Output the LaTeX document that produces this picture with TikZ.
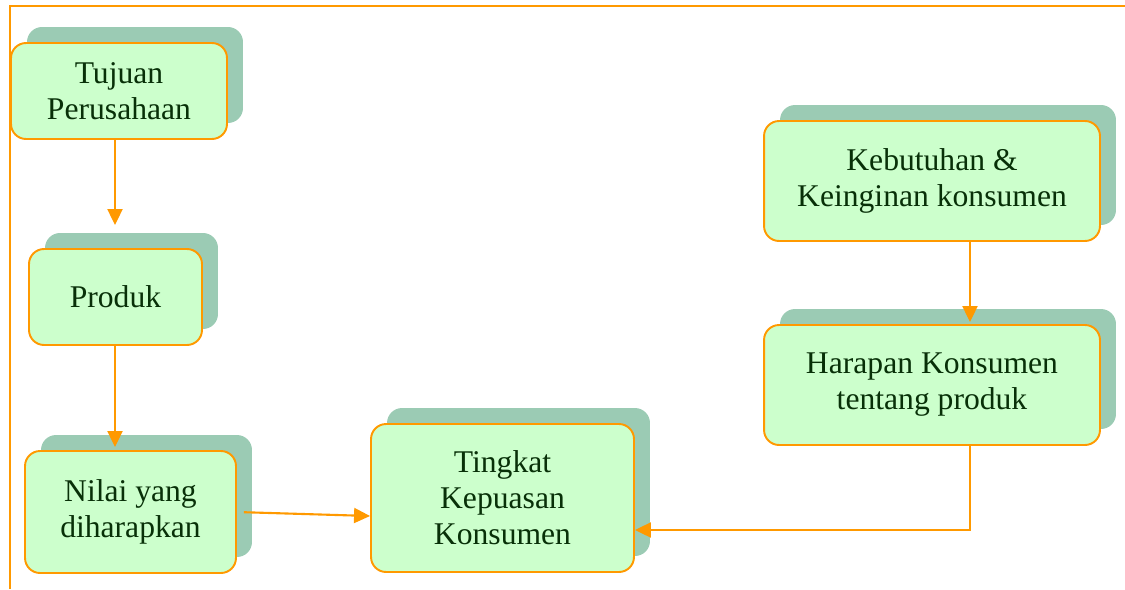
\documentclass[tikz,border=0pt]{standalone}
\usepackage{fontspec}
\setmainfont{Liberation Serif}
\usetikzlibrary{positioning, arrows.meta, shadows}
\definecolor{boxgreen}{RGB}{204,255,204}
\definecolor{shadowgreen}{RGB}{155,203,180}
\definecolor{lineorange}{RGB}{255,153,0}
\definecolor{textgreen}{RGB}{8,48,8}

\begin{document}
\begin{tikzpicture}[x=0.02cm, y=-0.02cm,
    kotak/.style={draw=lineorange, line width=1.1pt, rounded corners=0.3cm,
      fill=boxgreen, align=center, text=textgreen, inner sep=2pt,
      font=\fontsize{18}{20.5}\selectfont,
      general shadow={fill=shadowgreen, shadow xshift=0.32cm, shadow yshift=0.32cm}},
    panah/.style={draw=lineorange, line width=1.2pt,
      -{Triangle[length=0.32cm, width=0.3cm]}}]
    \useasboundingbox (0,0) rectangle (1125,589);
    % frame
    \draw[lineorange, line width=0.8pt] (10,589) -- (10,6) -- (1125,6);

    \node[kotak, minimum width=4.32cm, minimum height=1.92cm] (tujuan) at (119,91) {Tujuan\\Perusahaan};
    \node[kotak, minimum width=3.46cm, minimum height=1.92cm] (produk) at (115.5,297) {Produk};
    \node[kotak, minimum width=4.22cm, minimum height=2.44cm] (nilai) at (130.5,512) {Nilai yang\\diharapkan};
    \node[kotak, minimum width=5.26cm, minimum height=2.96cm] (tingkat) at (502.5,498) {Tingkat\\Kepuasan\\Konsumen};
    \node[kotak, minimum width=6.72cm, minimum height=2.4cm] (kebutuhan) at (932,181) {Kebutuhan \&\\Keinginan konsumen};
    \node[kotak, minimum width=6.72cm, minimum height=2.4cm] (harapan) at (932,385) {Harapan Konsumen\\tentang produk};

    % arrows
    \coordinate (kiri) at (115,0);
    \draw[panah, shorten >=0.46cm] (kiri |- tujuan.south) -- (kiri |- produk.north);
    \draw[panah, shorten >=0.06cm] (kiri |- produk.south) -- (kiri |- nilai.north);
    \draw[panah, shorten <=0.14cm] (nilai.east) -- ([yshift=-0.36cm]tingkat.west);
    \draw[panah, shorten >=0.04cm] ([xshift=0.76cm]kebutuhan.south) -- ([xshift=0.76cm]harapan.north);
    \draw[panah] ([xshift=0.76cm]harapan.south) |- ([yshift=-0.64cm]tingkat.east);
\end{tikzpicture}
\end{document}
